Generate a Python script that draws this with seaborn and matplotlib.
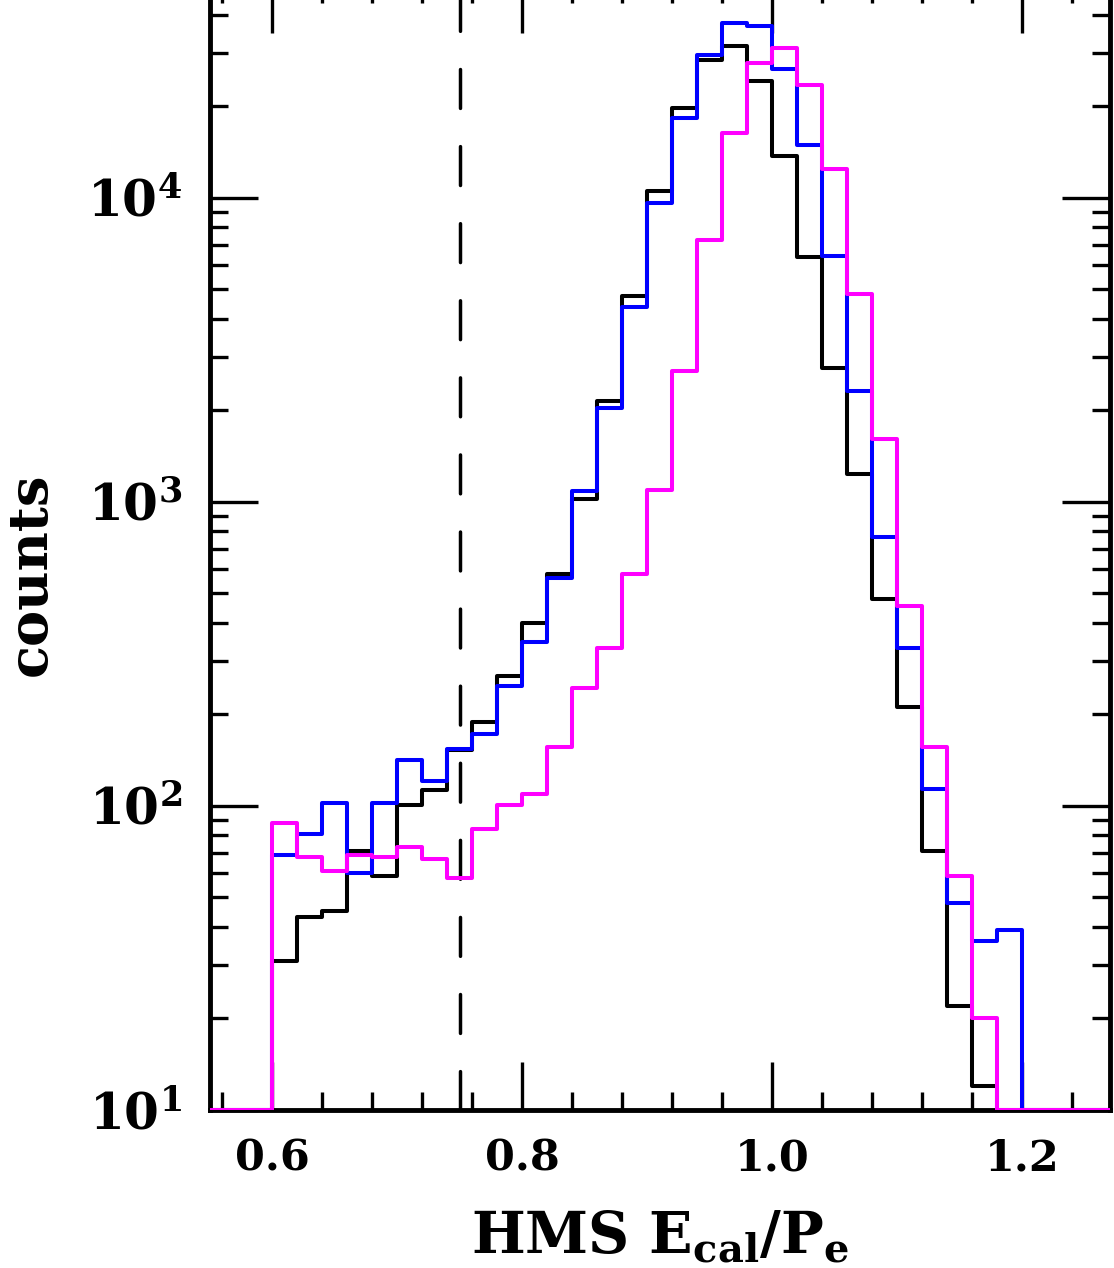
import numpy as np
import pandas as pd
import matplotlib
matplotlib.use("Agg")
import matplotlib.pyplot as plt
import seaborn as sns
from matplotlib.ticker import MultipleLocator, LogLocator, FuncFormatter, NullFormatter

# bin edges, 0.02 wide; data bins run 0.60 - 1.20, empty bins padded on both sides
edges = np.round(np.arange(0.54, 1.2801, 0.02), 2)
centers = edges[:-1] + 0.01
n_pad_lo, n_pad_hi = 3, 4

# counts per bin for 0.60 ... 1.18 (lower edge)
black_counts = [31, 43, 45, 71, 59, 101, 113, 153, 189, 268,
                399, 578, 1020, 2140, 4760, 10500, 19700, 28300, 31500, 24200,
                13700, 6370, 2750, 1230, 479, 211, 71, 22, 12, 0]
blue_counts = [69, 81, 102, 60, 102, 141, 121, 154, 172, 247,
               347, 563, 1087, 2040, 4370, 9610, 18300, 29400, 37500, 36800,
               26500, 14900, 6410, 2310, 766, 330, 114, 48, 36, 39]
magenta_counts = [88, 68, 61, 69, 68, 73, 67, 58, 84, 101,
                  109, 156, 244, 330, 579, 1094, 2690, 7280, 16300, 27700,
                  31100, 23400, 12450, 4830, 1607, 453, 156, 59, 20, 0]

cut_value = 0.75
y_min, y_max = 10, 5e4

sns.set_style("ticks")
plt.rcParams["font.family"] = ["DejaVu Serif"]
plt.rcParams["font.weight"] = "bold"
plt.rcParams["mathtext.fontset"] = "dejavuserif"
for key in ["text.color", "axes.labelcolor", "xtick.color", "ytick.color", "axes.edgecolor"]:
    plt.rcParams[key] = "black"

fig = plt.figure(figsize=(11.14, 12.68), dpi=100)
ax = fig.add_axes([0.1885, 0.1246, 0.8079, 0.8872])
ax.set_yscale("log")

for vals, col in [(black_counts, "black"), (blue_counts, "#0000ff"), (magenta_counts, "#ff00ff")]:
    full = np.concatenate([np.zeros(n_pad_lo), vals, np.zeros(n_pad_hi)])
    # empty bins are drawn along the bottom of the frame
    df = pd.DataFrame({"ratio": centers, "counts": np.maximum(full, y_min)})
    sns.histplot(data=df, x="ratio", weights="counts", bins=list(edges), element="step",
                 fill=False, color=col, linewidth=2.9, zorder=3, ax=ax)

ax.axvline(cut_value, color="black", lw=2.5, dashes=(11.2, 11.0), dash_capstyle="round")

ax.set_xlim(0.55, 1.27)
ax.set_ylim(y_min, y_max)

ax.xaxis.set_major_locator(MultipleLocator(0.2))
ax.xaxis.set_minor_locator(MultipleLocator(0.04))
ax.xaxis.set_major_formatter(FuncFormatter(lambda v, p: f"{v:.1f}"))
ax.yaxis.set_major_locator(LogLocator(base=10, numticks=10))
ax.yaxis.set_minor_locator(LogLocator(base=10, subs=np.arange(2, 10), numticks=20))
ax.yaxis.set_minor_formatter(NullFormatter())
ax.yaxis.set_major_formatter(FuncFormatter(lambda v, p: r"$\mathbf{10^{%d}}$" % round(np.log10(v))))

ax.tick_params(which="both", direction="in", top=True, right=True, width=2.4, color="black")
ax.tick_params(which="major", length=34.5, pad=20)
ax.tick_params(which="minor", length=13)
ax.tick_params(axis="x", which="major", labelsize=31)
ax.tick_params(axis="y", which="major", labelsize=36, pad=20)
for lab in ax.get_xticklabels() + ax.get_yticklabels():
    lab.set_fontweight("bold")

for sp in ax.spines.values():
    sp.set_linewidth(3.5)
    sp.set_color("black")

ax.set_ylabel("counts", fontsize=39, fontweight="bold")
ax.yaxis.set_label_coords(-0.17, 0.476)
ax.set_xlabel(r"HMS E$_\mathbf{cal}$/P$_\mathbf{e}$", fontsize=41, fontweight="bold", labelpad=21)

fig.savefig("out.png", dpi=100)
